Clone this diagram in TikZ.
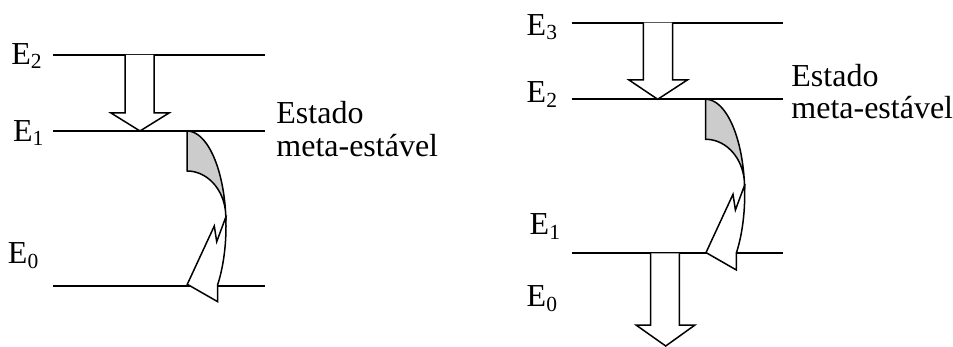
\documentclass[tikz,border=0pt]{standalone}
\usepackage{fontspec}
\setmainfont{Liberation Serif}
\newcommand{\lev}[2]{#1\raisebox{-4.5pt}{\fontsize{21.5}{21.5}\selectfont #2}}
\newcommand{\curvedarrow}{%
  \filldraw[curv, fill=black!20]
    plot[domain=-90:-5.4, samples=40] ({39*cos(\x)}, {95+95*sin(\x)})
    -- plot[domain=0:-90, samples=40] ({38.8*cos(\x)}, {86+46*sin(\x)})
    -- cycle;
  \filldraw[curv, fill=white]
    (38.83,86.06) -- (29.7,110.7) -- (27.3,95) -- (0.3,153.3)
    -- (30.7,170.7) -- (30.7,153.5)
    -- plot[domain=38:-5.4, samples=40] ({39*cos(\x)}, {95+95*sin(\x)})
    -- cycle;}
\begin{document}
\begin{tikzpicture}[x=1pt,y=-1pt,
  level/.style={line width=1.8pt},
  blockarr/.style={draw, line width=1.5pt, fill=white, line join=miter},
  curv/.style={draw, line width=1.5pt, line join=miter},
  lbl/.style={inner sep=0pt, anchor=base west, font=\fontsize{32}{34}\selectfont}]
\useasboundingbox (0,0) rectangle (953,347);

% ---- left diagram: levels
\coordinate (lE2a) at (53,55);  \coordinate (lE2b) at (265,55);
\coordinate (lE1a) at (53,131); \coordinate (lE1b) at (265,131);
\coordinate (lE0a) at (53,286); \coordinate (lE0b) at (265,286);
\draw[level] (lE2a) -- (lE2b);
\draw[level] (lE1a) -- (lE1b);
\draw[level] (lE0a) -- (lE0b);

% pumping arrow E2 -> E1
\draw[blockarr] (125,55) -- (125,113) -- (111,113) -- (140,131) -- (169,113) -- (154,113) -- (154,55);

% curved decay arrow
\begin{scope}[shift={(187,131)}]
  \curvedarrow
\end{scope}

\node[lbl] (lblE2) at (11.2,64.5) {\lev{E}{2}};
\node[lbl] (lblE1) at (12.8,141.5) {\lev{E}{1}};
\node[lbl] (lblE0) at (7.8,264) {\lev{E}{0}};
\node[lbl] (lest1) at (276.2,123.3) {Estado};
\node[lbl] (lest2) at (276.2,156.7) {meta-estável};

% ---- right diagram: levels
\coordinate (rE3a) at (571.7,22.7);  \coordinate (rE3b) at (783.3,22.7);
\coordinate (rE2a) at (571.7,99.3);  \coordinate (rE2b) at (783.3,99.3);
\coordinate (rE1a) at (571.7,253.3); \coordinate (rE1b) at (783.3,253.3);
\draw[level] (rE3a) -- (rE3b);
\draw[level] (rE2a) -- (rE2b);
\draw[level] (rE1a) -- (rE1b);

% pumping arrow E3 -> E2
\draw[blockarr] (643.3,22.7) -- (643.3,80) -- (629,80) -- (657.7,99.3) -- (687.3,80) -- (672.7,80) -- (672.7,22.7);
% arrow from E1 downwards
\draw[blockarr] (650.7,253.3) -- (650.7,325) -- (636,325) -- (665.7,346) -- (695,325) -- (679.3,325) -- (679.3,253.3);

\begin{scope}[shift={(705.7,99.3)}]
  \curvedarrow
\end{scope}

\node[lbl] (rlblE3) at (526.5,35.5) {\lev{E}{3}};
\node[lbl] (rlblE2) at (526.5,103) {\lev{E}{2}};
\node[lbl] (rlblE1) at (529.5,235) {\lev{E}{1}};
\node[lbl] (rlblE0) at (526.5,307) {\lev{E}{0}};
\node[lbl] (rest1) at (791.2,86.7) {Estado};
\node[lbl] (rest2) at (791.2,118.3) {meta-estável};
\end{tikzpicture}
\end{document}
